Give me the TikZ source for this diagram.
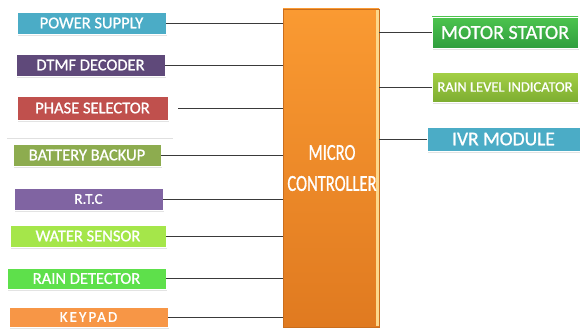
\documentclass[tikz,border=0pt]{standalone}
\usepackage{fontspec}
\setmainfont{Carlito}[FakeBold=0.9]
\newfontfamily\spaced[LetterSpace=14,FakeBold=0.9]{Carlito}
\usetikzlibrary{shadows}
\definecolor{cPower}{HTML}{4BACC6}
\definecolor{cDtmf}{HTML}{5F497A}
\definecolor{cPhase}{HTML}{C0504D}
\definecolor{cBatt}{HTML}{8DAC4F}
\definecolor{cRtc}{HTML}{8064A2}
\definecolor{cWater}{HTML}{A5E64A}
\definecolor{cRain}{HTML}{5EE04B}
\definecolor{cKey}{HTML}{F79646}
\definecolor{cMotorT}{HTML}{4DC44E}
\definecolor{cMotorB}{HTML}{2F9E3E}
\definecolor{cLevelT}{HTML}{A4D046}
\definecolor{cLevelB}{HTML}{7DAD31}
\definecolor{cIvr}{HTML}{4BACC6}
\definecolor{cMcT}{HTML}{FA9A32}
\definecolor{cMcB}{HTML}{E07A20}
\definecolor{cStrip}{HTML}{FCD88C}
\definecolor{cLine}{HTML}{3A3A3A}
\tikzset{
  blk/.style={rectangle, draw=white, line width=0.8pt, text=white, inner sep=0pt,
    font=\fontsize{16.5}{18}\selectfont,
    drop shadow={shadow xshift=1pt, shadow yshift=-2pt, fill=black!18, opacity=0.6}},
  conn/.style={draw=cLine, line width=0.9pt},
}
\begin{document}
\begin{tikzpicture}[x=1pt,y=-1pt]
\useasboundingbox (0,0) rectangle (580,329);
\fill[white] (0,0) rectangle (580,329);
% micro controller
\node[rectangle, inner sep=0pt, minimum width=96pt, minimum height=318pt,
  top color=cMcT, bottom color=cMcB, draw=cMcB!90!black, line width=0.5pt] (mc) at (331,168) {};
\fill[cStrip] ([xshift=-3.5pt,yshift=-1pt]mc.north east) rectangle ([xshift=-0.3pt,yshift=1pt]mc.south east);
\node[text=white, font=\fontsize{23}{31}\selectfont, align=center] (mct) at (332,168)
  {\scalebox{0.72}[1]{MICRO}\\\scalebox{0.72}[1]{CONTROLLER}};
% left blocks
\node[blk, fill=cPower, minimum width=149pt, minimum height=22pt] (ps) at (91.5,23) {POWER SUPPLY};
\node[blk, fill=cDtmf, minimum width=149pt, minimum height=22pt] (dt) at (90.5,65) {DTMF DECODER};
\node[blk, fill=cPhase, minimum width=151pt, minimum height=24pt] (ph) at (92.5,108) {PHASE SELECTOR};
\draw[black!12, line width=0.6pt] (7,138) -- (173,138);
\node[blk, fill=cBatt, minimum width=148pt, minimum height=22pt] (bb) at (87,155) {BATTERY BACKUP};
\node[blk, fill=cRtc, minimum width=149pt, minimum height=22pt, font=\fontsize{15}{17}\selectfont] (rt) at (88.5,199) {R.T.C};
\node[blk, fill=cWater, minimum width=156pt, minimum height=22pt] (ws) at (88,236) {WATER SENSOR};
\node[blk, fill=cRain, minimum width=159pt, minimum height=21pt] (rd) at (86.5,278.5) {RAIN DETECTOR};
\node[blk, fill=cKey, minimum width=159pt, minimum height=20pt, font=\spaced\fontsize{15}{17}\selectfont] (kp) at (88.5,317) {KEYPAD};
% right blocks
\node[blk, top color=cMotorT, bottom color=cMotorB, draw=white, minimum width=146pt, minimum height=31pt, font=\fontsize{20}{22}\selectfont] (ms) at (505,32.5) {MOTOR STATOR};
\node[blk, top color=cLevelT, bottom color=cLevelB, draw=white, minimum width=146pt, minimum height=30pt, font=\fontsize{14.5}{16}\selectfont] (rl) at (505,87) {RAIN LEVEL INDICATOR};
\node[blk, fill=cIvr, minimum width=153pt, minimum height=24pt, font=\fontsize{19.5}{21}\selectfont] (iv) at (503.5,139) {IVR MODULE};
% connectors
\draw[conn] (ps.east) -- (ps.east -| mc.west);
\draw[conn] (dt.east) -- (dt.east -| mc.west);
\draw[conn] ([xshift=10pt]ph.east) -- (ph.east -| mc.west);
\draw[conn] (bb.east) -- (bb.east -| mc.west);
\draw[conn] (rt.east) -- (rt.east -| mc.west);
\draw[conn] (ws.east) -- (ws.east -| mc.west);
\draw[conn] (rd.east) -- (rd.east -| mc.west);
\draw[conn] (kp.east) -- (kp.east -| mc.west);
\draw[conn] (ms.west -| mc.east) -- (ms.west);
\draw[conn] (rl.west -| mc.east) -- (rl.west);
\draw[conn] (iv.west -| mc.east) -- (iv.west);
\end{tikzpicture}
\end{document}
